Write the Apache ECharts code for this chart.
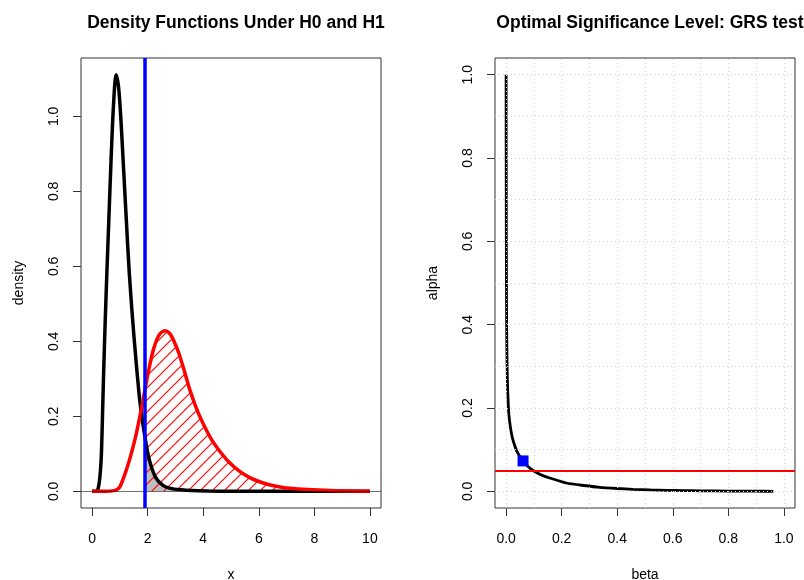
<!DOCTYPE html>
<html><head><meta charset="utf-8">
<script src="https://cdn.jsdelivr.net/npm/echarts@6/dist/echarts.min.js"></script>
<style>html,body{margin:0;padding:0;background:#fff}#c{width:804px;height:580px}</style>
</head><body><div id="c"></div>
<script>
// ---- Left panel: densities under H0 (black) and H1 (red)
const h0X = [0, 0.1, 0.19, 0.25, 0.30, 0.335, 0.38, 0.418, 0.47, 0.53, 0.60, 0.683, 0.77, 0.863, 0.95, 1.03, 1.115, 1.22, 1.34, 1.51, 1.69, 1.78, 1.88, 2.04, 2.28, 2.55, 2.82, 3.2, 3.6, 4.2, 5, 7, 10];
const h0Y = [0, 0, 0.002, 0.02, 0.055, 0.10, 0.22, 0.325, 0.45, 0.58, 0.72, 0.885, 1.03, 1.111, 1.08, 1.0, 0.885, 0.74, 0.58, 0.41, 0.26, 0.205, 0.155, 0.09, 0.038, 0.016, 0.008, 0.004, 0.002, 0.001, 0.0003, 0, 0];
const h1X = [0, 0.5, 0.79, 0.9, 1.0, 1.21, 1.4, 1.57, 1.78, 1.88, 1.99, 2.1, 2.23, 2.42, 2.62, 2.75, 2.85, 2.98, 3.12, 3.3, 3.48, 3.7, 3.96, 4.3, 4.68, 4.97, 5.3, 5.69, 6.05, 6.41, 7.13, 8.57, 10];
const h1Y = [0, 0, 0.002, 0.005, 0.012, 0.052, 0.098, 0.147, 0.222, 0.262, 0.305, 0.345, 0.384, 0.418, 0.428, 0.424, 0.415, 0.395, 0.369, 0.326, 0.28, 0.232, 0.186, 0.138, 0.099, 0.075, 0.054, 0.036, 0.025, 0.017, 0.008, 0.002, 0.0005];
const critValue = 1.88;
const xTicksLeft = [0, 2, 4, 6, 8, 10];
const yTicksLeft = [0, 0.2, 0.4, 0.6, 0.8, 1.0];

// ---- Right panel: alpha vs beta
const betaVals  = [0, 0.0003, 0.0008, 0.0015, 0.0025, 0.0045, 0.007, 0.010, 0.015, 0.022, 0.028, 0.038, 0.049, 0.061, 0.078, 0.097, 0.125, 0.157, 0.217, 0.28, 0.337, 0.40, 0.457, 0.52, 0.578, 0.64, 0.70, 0.80, 0.90, 0.962];
const alphaVals = [1.0, 0.80, 0.60, 0.45, 0.35, 0.27, 0.22, 0.185, 0.156, 0.13, 0.116, 0.097, 0.084, 0.073, 0.060, 0.050, 0.040, 0.032, 0.020, 0.014, 0.0096, 0.0068, 0.0048, 0.0034, 0.0024, 0.0018, 0.0013, 0.0007, 0.0003, 0.0001];
const optimalPoint = [0.061, 0.073];
const alphaLevel = 0.05;
const ticksRight = [0, 0.2, 0.4, 0.6, 0.8, 1.0];
const gridRight = [0, 0.1, 0.2, 0.3, 0.4, 0.5, 0.6, 0.7, 0.8, 0.9, 1.0];

const FONT = 'Liberation Sans, Arial, Helvetica, sans-serif';
function pairs(xs, ys) { return xs.map((x, i) => [x, ys[i]]); }
function tail(xs, ys, c) { return pairs(xs, ys).filter(p => p[0] >= c); }
const hatchData = tail(h1X, h1Y, critValue);

function xAx(gi, min, max, ticks, fmt, name) {
  return {
    type: 'value', gridIndex: gi, min: min, max: max,
    axisLine: { show: false, onZero: false },
    axisTick: { show: true, customValues: ticks, length: 8, lineStyle: { color: '#333', width: 1 } },
    axisLabel: { customValues: ticks, formatter: fmt, fontSize: 14, color: '#000', margin: 24, fontFamily: FONT },
    splitLine: { show: false },
    name: name, nameLocation: 'middle', nameGap: 60,
    nameTextStyle: { fontSize: 14, color: '#000', fontFamily: FONT }
  };
}
function yAx(gi, min, max, ticks, fmt, name) {
  return {
    type: 'value', gridIndex: gi, min: min, max: max,
    axisLine: { show: false, onZero: false },
    axisTick: { show: true, customValues: ticks, length: 8, lineStyle: { color: '#333', width: 1 } },
    axisLabel: { customValues: ticks, formatter: fmt, fontSize: 14, color: '#000', margin: 20, rotate: 90, fontFamily: FONT },
    splitLine: { show: false },
    name: name, nameLocation: 'middle', nameGap: 55, nameRotate: 90,
    nameTextStyle: { fontSize: 14, color: '#000', fontFamily: FONT }
  };
}
const f1 = v => Number(v).toFixed(1);
const f0 = v => String(Math.round(v));

function renderHatch(params, api) {
  if (params.dataIndex !== 0) return;
  const pts = hatchData.map(p => api.coord(p));
  const baseY = api.coord([critValue, 0])[1];
  const x0 = pts[0][0], x1 = pts[pts.length - 1][0];
  function cy(px) {
    for (let i = 1; i < pts.length; i++) {
      if (px <= pts[i][0]) {
        const a = pts[i - 1], b = pts[i];
        const t = (px - a[0]) / (b[0] - a[0]);
        return a[1] + t * (b[1] - a[1]);
      }
    }
    return pts[pts.length - 1][1];
  }
  const minY = Math.min.apply(null, pts.map(p => p[1]));
  const step = 12, d = 0.5;
  const children = [];
  const seg = (ax, ay, bx, by) => children.push({ type: 'line', shape: { x1: ax, y1: ay, x2: bx, y2: by },
    style: { stroke: '#ff0000', lineWidth: 1.1, opacity: 1 }, silent: true });
  for (let k = Math.round(x0 + minY); k <= x1 + baseY; k += step) {
    let inSeg = false, sx = 0, sy = 0, lx = 0, ly = 0;
    for (let px = x0; px <= x1; px += d) {
      const py = k - px;
      const inside = py <= baseY && py >= cy(px) + 1;
      if (inside && !inSeg) { inSeg = true; sx = px; sy = py; }
      if (!inside && inSeg) { inSeg = false; seg(sx, sy, lx, ly); }
      if (inside) { lx = px; ly = py; }
    }
    if (inSeg) seg(sx, sy, lx, ly);
  }
  return { type: 'group', children: children };
}

const chart = echarts.init(document.getElementById('c'), null, { renderer: 'canvas' });
chart.setOption({
  animation: false,
  backgroundColor: '#fff',
  title: [
    { text: 'Density Functions Under H0 and H1', left: 231, top: 9, textAlign: 'center',
      textStyle: { fontSize: 17.5, fontWeight: 'bold', color: '#000', fontFamily: FONT } },
    { text: 'Optimal Significance Level: GRS test', left: 645, top: 9, textAlign: 'center',
      textStyle: { fontSize: 17.5, fontWeight: 'bold', color: '#000', fontFamily: FONT } }
  ],
  grid: [
    { left: 81, top: 58, width: 300, height: 450, show: true, borderColor: '#333', borderWidth: 1,
      backgroundColor: 'transparent', outerBoundsMode: 'none', containLabel: false },
    { left: 495, top: 58, width: 300, height: 450, show: true, borderColor: '#333', borderWidth: 1,
      backgroundColor: 'transparent', outerBoundsMode: 'none', containLabel: false }
  ],
  xAxis: [
    xAx(0, -0.4, 10.4, xTicksLeft, f0, 'x'),
    xAx(1, -0.04, 1.04, ticksRight, f1, 'beta')
  ],
  yAxis: [
    yAx(0, -0.0444, 1.1557, yTicksLeft, f1, 'density'),
    yAx(1, -0.04, 1.04, ticksRight, f1, 'alpha')
  ],
  series: [
    // grey area under H0 beyond critical value
    { type: 'line', xAxisIndex: 0, yAxisIndex: 0, data: tail(h0X, h0Y, critValue), showSymbol: false,
      smooth: 0.3, itemStyle: { color: '#bebebe' },
      lineStyle: { width: 0, opacity: 0 }, areaStyle: { color: '#bebebe', opacity: 1 }, z: 1, silent: true },
    // hatched area under H1 beyond critical value
    { type: 'custom', xAxisIndex: 0, yAxisIndex: 0, data: [0], renderItem: renderHatch, silent: true, z: 2,
      itemStyle: { color: '#ff0000' } },
    { name: 'H0', type: 'line', xAxisIndex: 0, yAxisIndex: 0, data: pairs(h0X, h0Y), showSymbol: false,
      smooth: 0.3, itemStyle: { color: '#000' },
      lineStyle: { color: '#000', width: 3.5 }, z: 3 },
    { name: 'H1', type: 'line', xAxisIndex: 0, yAxisIndex: 0, data: pairs(h1X, h1Y), showSymbol: false,
      smooth: 0.3, itemStyle: { color: '#ff0000' },
      lineStyle: { color: '#ff0000', width: 3.5 }, z: 4,
      markLine: { silent: true, symbol: 'none', label: { show: false },
        data: [
          { yAxis: 0, lineStyle: { color: 'rgba(0,0,0,0.55)', width: 1.2, type: 'solid' } },
          { xAxis: critValue, lineStyle: { color: '#0000ff', width: 3.5, type: 'solid' } }
        ] } },
    // right panel grid lines
    { type: 'line', xAxisIndex: 1, yAxisIndex: 1, data: [], silent: true, z: 0,
      markLine: { silent: true, symbol: 'none', label: { show: false },
        lineStyle: { color: '#d3d3d3', width: 1, type: [1, 3] },
        data: gridRight.map(v => ({ xAxis: v })).concat(gridRight.map(v => ({ yAxis: v }))) } },
    { name: 'alpha-beta', type: 'line', xAxisIndex: 1, yAxisIndex: 1, data: pairs(betaVals, alphaVals), showSymbol: false,
      smooth: 0.2, itemStyle: { color: '#000' }, lineStyle: { color: '#000', width: 2.8 }, z: 3,
      markLine: { silent: true, symbol: 'none', label: { show: false },
        data: [ { yAxis: alphaLevel, lineStyle: { color: '#ff0000', width: 2, type: 'solid' } } ] } },
    { type: 'scatter', xAxisIndex: 1, yAxisIndex: 1, data: [optimalPoint], symbol: 'rect', symbolSize: 11,
      itemStyle: { color: '#0000ff', opacity: 1 }, z: 5 }
  ]
});
</script></body></html>
